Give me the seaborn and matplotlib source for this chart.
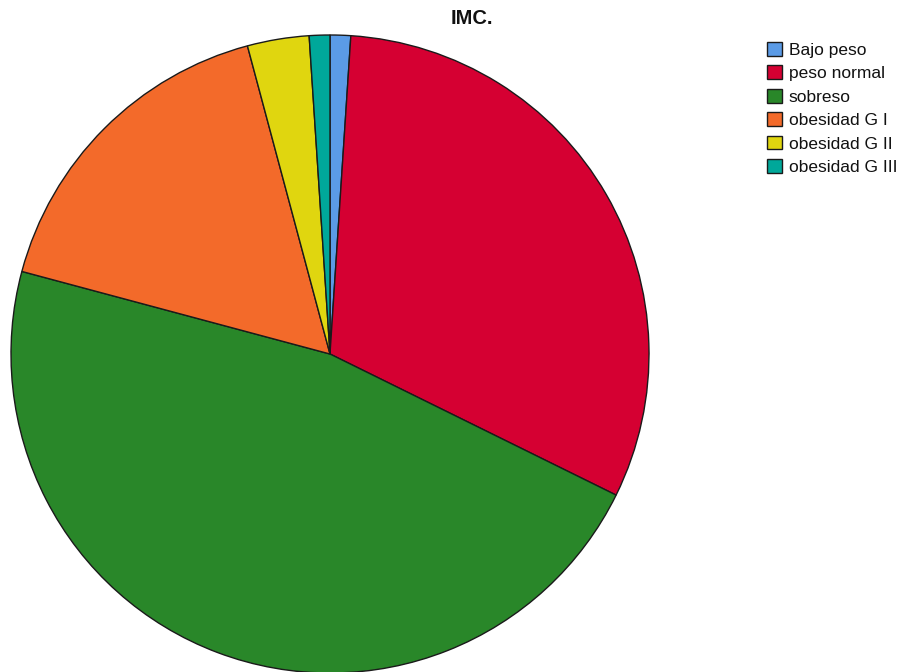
import matplotlib
matplotlib.use("Agg")
import matplotlib.pyplot as plt
import seaborn as sns
from matplotlib.patches import Patch

categories = ["Bajo peso", "peso normal", "sobreso", "obesidad G I", "obesidad G II", "obesidad G III"]
counts = [1, 30, 45, 16, 3, 1]
colors = ["#5B9BE6", "#D50032", "#298729", "#F36A2A", "#E0D60F", "#00A89A"]

sns.set_theme(style="white")
plt.rcParams['font.family'] = ['Liberation Sans', 'DejaVu Sans']

W, H = 904, 672
fig = plt.figure(figsize=(W / 100, H / 100), dpi=100)
fig.patch.set_facecolor("white")

palette = sns.color_palette(colors)
cx, cy, r = 330, 354, 319
ax = fig.add_axes([(cx - r) / W, (H - cy - r) / H, 2 * r / W, 2 * r / H])
ax.pie(counts, colors=palette, startangle=90, counterclock=False, radius=1,
       wedgeprops=dict(edgecolor="#1a1a1a", linewidth=1.0))
ax.set_xlim(-1, 1)
ax.set_ylim(-1, 1)
ax.set_aspect("auto")
ax.axis("off")

fig.text(472 / W, 1 - 19 / H, "IMC.", ha="center", va="center",
         fontsize=14.5, fontweight="bold", color="#111111")

handles = [Patch(facecolor=c, edgecolor="#1a1a1a", linewidth=1.0) for c in palette]
leg = fig.legend(handles, categories, loc="upper left",
                 bbox_to_anchor=(767 / W, 1 - 42 / H), frameon=False,
                 fontsize=12.5, handlelength=0.85, handleheight=0.85,
                 handletextpad=0.4, labelspacing=0.43, borderaxespad=0,
                 borderpad=0)
for t in leg.get_texts():
    t.set_color("#111111")

fig.savefig("out.png", dpi=100, facecolor="white")
